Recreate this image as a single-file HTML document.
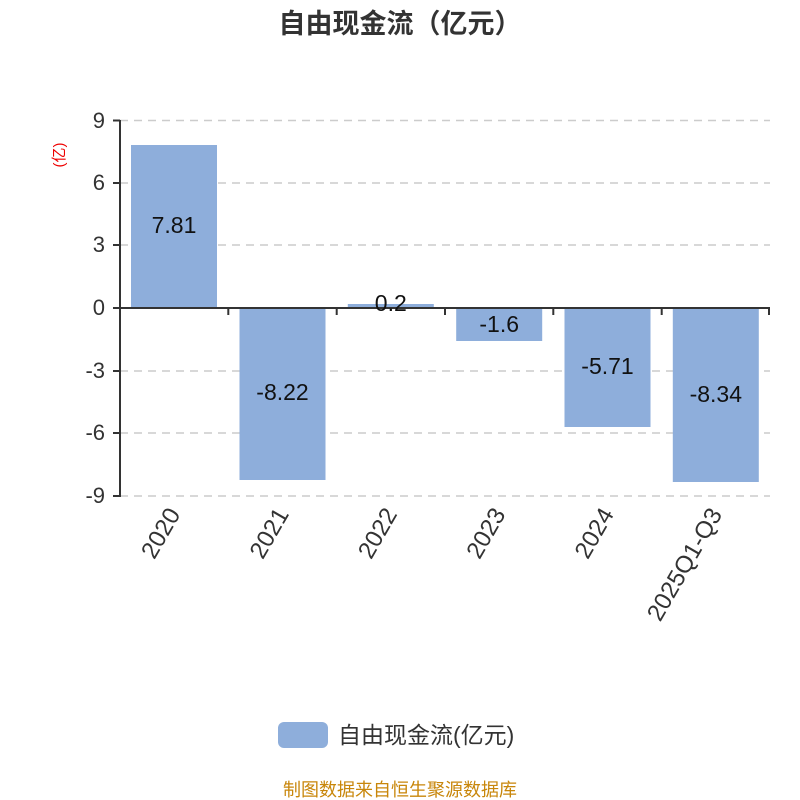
<!DOCTYPE html>
<html><head><meta charset="utf-8"><style>body{margin:0;background:#fff}svg{display:block}</style></head>
<body>
<svg width="800" height="800" xmlns="http://www.w3.org/2000/svg" font-family="'Liberation Sans','Noto Sans CJK SC',sans-serif">
<text x="400" y="33" text-anchor="middle" font-size="27" font-weight="bold" fill="#333">自由现金流（亿元）</text>
<g stroke="#ccc" stroke-dasharray="8,6" stroke-width="1.5">
<line x1="120" y1="120.5" x2="770" y2="120.5"/>
<line x1="120" y1="183" x2="770" y2="183"/>
<line x1="120" y1="245" x2="770" y2="245"/>
<line x1="120" y1="371" x2="770" y2="371"/>
<line x1="120" y1="433" x2="770" y2="433"/>
<line x1="120" y1="496" x2="770" y2="496"/>
</g>
<g fill="#8eaedb">
<rect x="131" y="145" width="86" height="163"/>
<rect x="239.5" y="308" width="86" height="172"/>
<rect x="347.8" y="304" width="86" height="4"/>
<rect x="456.2" y="308" width="86" height="33"/>
<rect x="564.5" y="308" width="86" height="119"/>
<rect x="672.8" y="308" width="86" height="174"/>
</g>
<g stroke="#333" stroke-width="2">
<line x1="120" y1="120" x2="120" y2="497"/>
<line x1="120" y1="308" x2="770" y2="308"/>
<line x1="113" y1="120.5" x2="120" y2="120.5"/>
<line x1="113" y1="183" x2="120" y2="183"/>
<line x1="113" y1="245" x2="120" y2="245"/>
<line x1="113" y1="308" x2="120" y2="308"/>
<line x1="113" y1="371" x2="120" y2="371"/>
<line x1="113" y1="433" x2="120" y2="433"/>
<line x1="113" y1="496" x2="120" y2="496"/>
<line x1="228.3" y1="308" x2="228.3" y2="315"/>
<line x1="336.7" y1="308" x2="336.7" y2="315"/>
<line x1="445" y1="308" x2="445" y2="315"/>
<line x1="553.3" y1="308" x2="553.3" y2="315"/>
<line x1="661.7" y1="308" x2="661.7" y2="315"/>
<line x1="769" y1="308" x2="769" y2="315"/>
</g>
<g font-size="22" fill="#333" text-anchor="end">
<text x="105" y="128">9</text>
<text x="105" y="190">6</text>
<text x="105" y="252">3</text>
<text x="105" y="315">0</text>
<text x="105" y="378">-3</text>
<text x="105" y="440">-6</text>
<text x="105" y="503">-9</text>
</g>
<text transform="translate(64,155) rotate(-90)" text-anchor="middle" font-size="15" fill="#e00">(亿)</text>
<g font-size="23" fill="#111" text-anchor="middle">
<text x="174" y="233">7.81</text>
<text x="282.5" y="400">-8.22</text>
<text x="390.8" y="311">0.2</text>
<text x="499.2" y="332">-1.6</text>
<text x="607.5" y="374">-5.71</text>
<text x="715.8" y="402">-8.34</text>
</g>
<g font-size="24" fill="#333" text-anchor="end">
<text transform="translate(181,514) rotate(-60)">2020</text>
<text transform="translate(289.5,514) rotate(-60)">2021</text>
<text transform="translate(397.8,514) rotate(-60)">2022</text>
<text transform="translate(506.2,514) rotate(-60)">2023</text>
<text transform="translate(614.5,514) rotate(-60)">2024</text>
<text transform="translate(722.8,514) rotate(-60)">2025Q1-Q3</text>
</g>
<rect x="278" y="722" width="50" height="26" rx="6" fill="#8eaedb"/>
<text x="338" y="743" font-size="23" fill="#333">自由现金流(亿元)</text>
<text x="400" y="796" text-anchor="middle" font-size="18" fill="#c8860a">制图数据来自恒生聚源数据库</text>
</svg>
</body></html>
